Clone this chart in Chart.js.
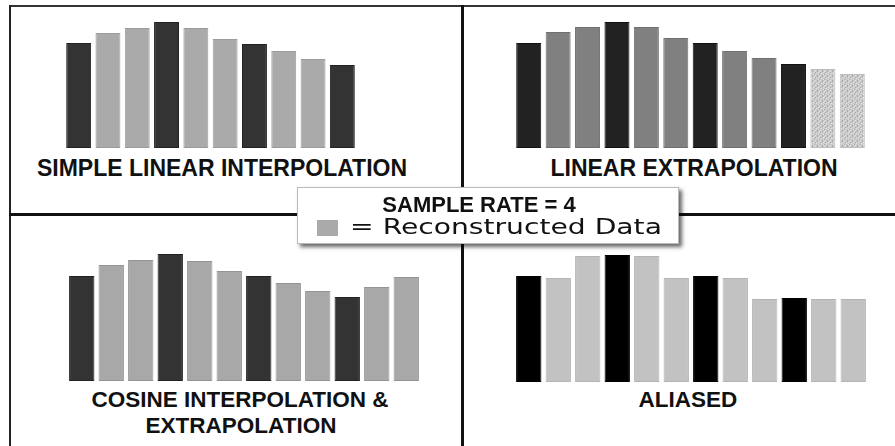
<!DOCTYPE html>
<html lang="en">
<head>
  <meta charset="UTF-8">
  <title>Sample Rate = 4 - Reconstruction</title>
  <script src="https://cdn.jsdelivr.net/npm/chart.js"></script>
  <style>
    html, body {
      margin: 0;
      padding: 0;
      background: #fff;
      width: 895px;
      height: 446px;
      overflow: hidden;
      position: relative;
      font-family: "Liberation Sans", Arial, sans-serif;
    }
    .linha { position: absolute; background: #111; }
    canvas { position: absolute; }
    .rotulo {
      position: absolute;
      font-weight: bold;
      font-size: 23px;
      line-height: 1;
      white-space: nowrap;
      color: #111;
      transform: translate(-50%, -50%);
    }
    #legenda {
      position: absolute;
      left: 297px;
      top: 187px;
      width: 380px;
      height: 55px;
      background: #fff;
      border: 1px solid #bbb;
      box-shadow: 3px 3px 4px rgba(0,0,0,0.6);
    }
    #amostra {
      position: absolute;
      left: 317px;
      top: 220px;
      width: 21px;
      height: 16px;
      background: #aaa;
    }
    #taxa {
      position: absolute;
      left: 479px;
      top: 205px;
      font-weight: bold;
      font-size: 22px;
      line-height: 1;
      white-space: nowrap;
      color: #111;
      transform: translate(-50%, -50%);
    }
    #reconstruido {
      position: absolute;
      left: 506px;
      top: 227px;
      font-family: "DejaVu Sans", sans-serif;
      font-size: 22px;
      line-height: 1;
      white-space: nowrap;
      color: #111;
      transform: translate(-50%, -50%) scaleX(1.28);
    }
  </style>
</head>
<body>
  <!-- molduras -->
  <div class="linha" style="left:9px; top:5px; width:886px; height:2px; background:#333"></div>
  <div class="linha" style="left:9px; top:5px; width:2px; height:441px; background:#222"></div>
  <div class="linha" style="left:461px; top:5px; width:3px; height:441px"></div>
  <div class="linha" style="left:9px; top:213px; width:886px; height:3px"></div>

  <canvas id="g1" width="293" height="130" style="left:64px; top:18px"></canvas>
  <canvas id="g2" width="353" height="130" style="left:514px; top:18px"></canvas>
  <canvas id="g3" width="354" height="130" style="left:67px; top:251px"></canvas>
  <canvas id="g4" width="354" height="130" style="left:514px; top:252px"></canvas>

  <div class="rotulo" style="left:222px; top:168px">SIMPLE LINEAR INTERPOLATION</div>
  <div class="rotulo" style="left:694px; top:168px">LINEAR EXTRAPOLATION</div>
  <div class="rotulo" style="left:240px; top:400px; font-size:22.5px">COSINE INTERPOLATION &amp;</div>
  <div class="rotulo" style="left:241px; top:426px; font-size:22.5px">EXTRAPOLATION</div>
  <div class="rotulo" style="left:688px; top:400px; font-size:22.5px">ALIASED</div>

  <div id="legenda"></div>
  <div id="amostra"></div>
  <div id="taxa">SAMPLE RATE = 4</div>
  <div id="reconstruido">= Reconstructed Data</div>

  <script>
    // valores (altura das barras)
    const interpLinear = [105, 115, 120, 126, 120, 109, 104, 97, 89, 83];
    const extrapLinear = [105, 116, 121, 126, 121, 110, 105, 97, 90, 84, 79, 74];
    const cosseno = [105, 116, 121, 127, 120, 110, 105, 98, 90, 84, 94, 104];
    const aliased = [106, 104, 126, 127, 126, 104, 106, 104, 83, 84, 83, 83];
    // tipo de cada barra: a = amostra, r = reconstruída, e = extrapolada (textura)
    const tipos10 = ["a","r","r","a","r","r","a","r","r","a"];
    const tiposExtrap = ["a","r","r","a","r","r","a","r","r","a","e","e"];
    const tipos12 = ["a","r","r","a","r","r","a","r","r","a","r","r"];
    const yMax = 130;

    // textura simples para as barras extrapoladas
    function textura() {
      const c = document.createElement("canvas");
      c.width = 5; c.height = 5;
      const ctx = c.getContext("2d");
      ctx.fillStyle = "#c9c9c9";
      ctx.fillRect(0, 0, 5, 5);
      const mapa = ["..x..", "o...x", ".x.o.", "x..o.", ".o..x"];
      mapa.forEach((linha, y) => {
        [...linha].forEach((ch, x) => {
          if (ch === "x") { ctx.fillStyle = "#e2e2e2"; ctx.fillRect(x, y, 1, 1); }
          if (ch === "o") { ctx.fillStyle = "#aaaaaa"; ctx.fillRect(x, y, 1, 1); }
        });
      });
      return ctx.createPattern(c, "repeat");
    }
    const padrao = textura();

    function grafico(id, valores, tipos, cores, bordas, largura) {
      new Chart(document.getElementById(id), {
        type: "bar",
        data: {
          labels: valores.map((_, i) => i + 1),
          datasets: [{
            data: valores,
            backgroundColor: tipos.map(t => cores[t]),
            borderColor: tipos.map(t => bordas[t]),
            borderWidth: 1,
            borderSkipped: false,
            categoryPercentage: 1,
            barPercentage: largura
          }]
        },
        options: {
          responsive: false,
          animation: false,
          layout: { padding: 0 },
          scales: {
            x: { display: false },
            y: { display: false, min: 0, max: yMax }
          },
          plugins: { legend: { display: false }, tooltip: { enabled: false } }
        }
      });
    }

    grafico("g1", interpLinear, tipos10,
      { a: "#333333", r: "#aaaaaa" }, { a: "#222222", r: "#9c9c9c" }, 0.85);
    grafico("g2", extrapLinear, tiposExtrap,
      { a: "#222222", r: "#808080", e: padrao }, { a: "#111111", r: "#707070", e: "#bdbdbd" }, 0.85);
    grafico("g3", cosseno, tipos12,
      { a: "#333333", r: "#a8a8a8" }, { a: "#222222", r: "#949494" }, 0.86);
    grafico("g4", aliased, tipos12,
      { a: "#000000", r: "#c2c2c2" }, { a: "#000000", r: "#b4b4b4" }, 0.86);
  </script>
</body>
</html>
